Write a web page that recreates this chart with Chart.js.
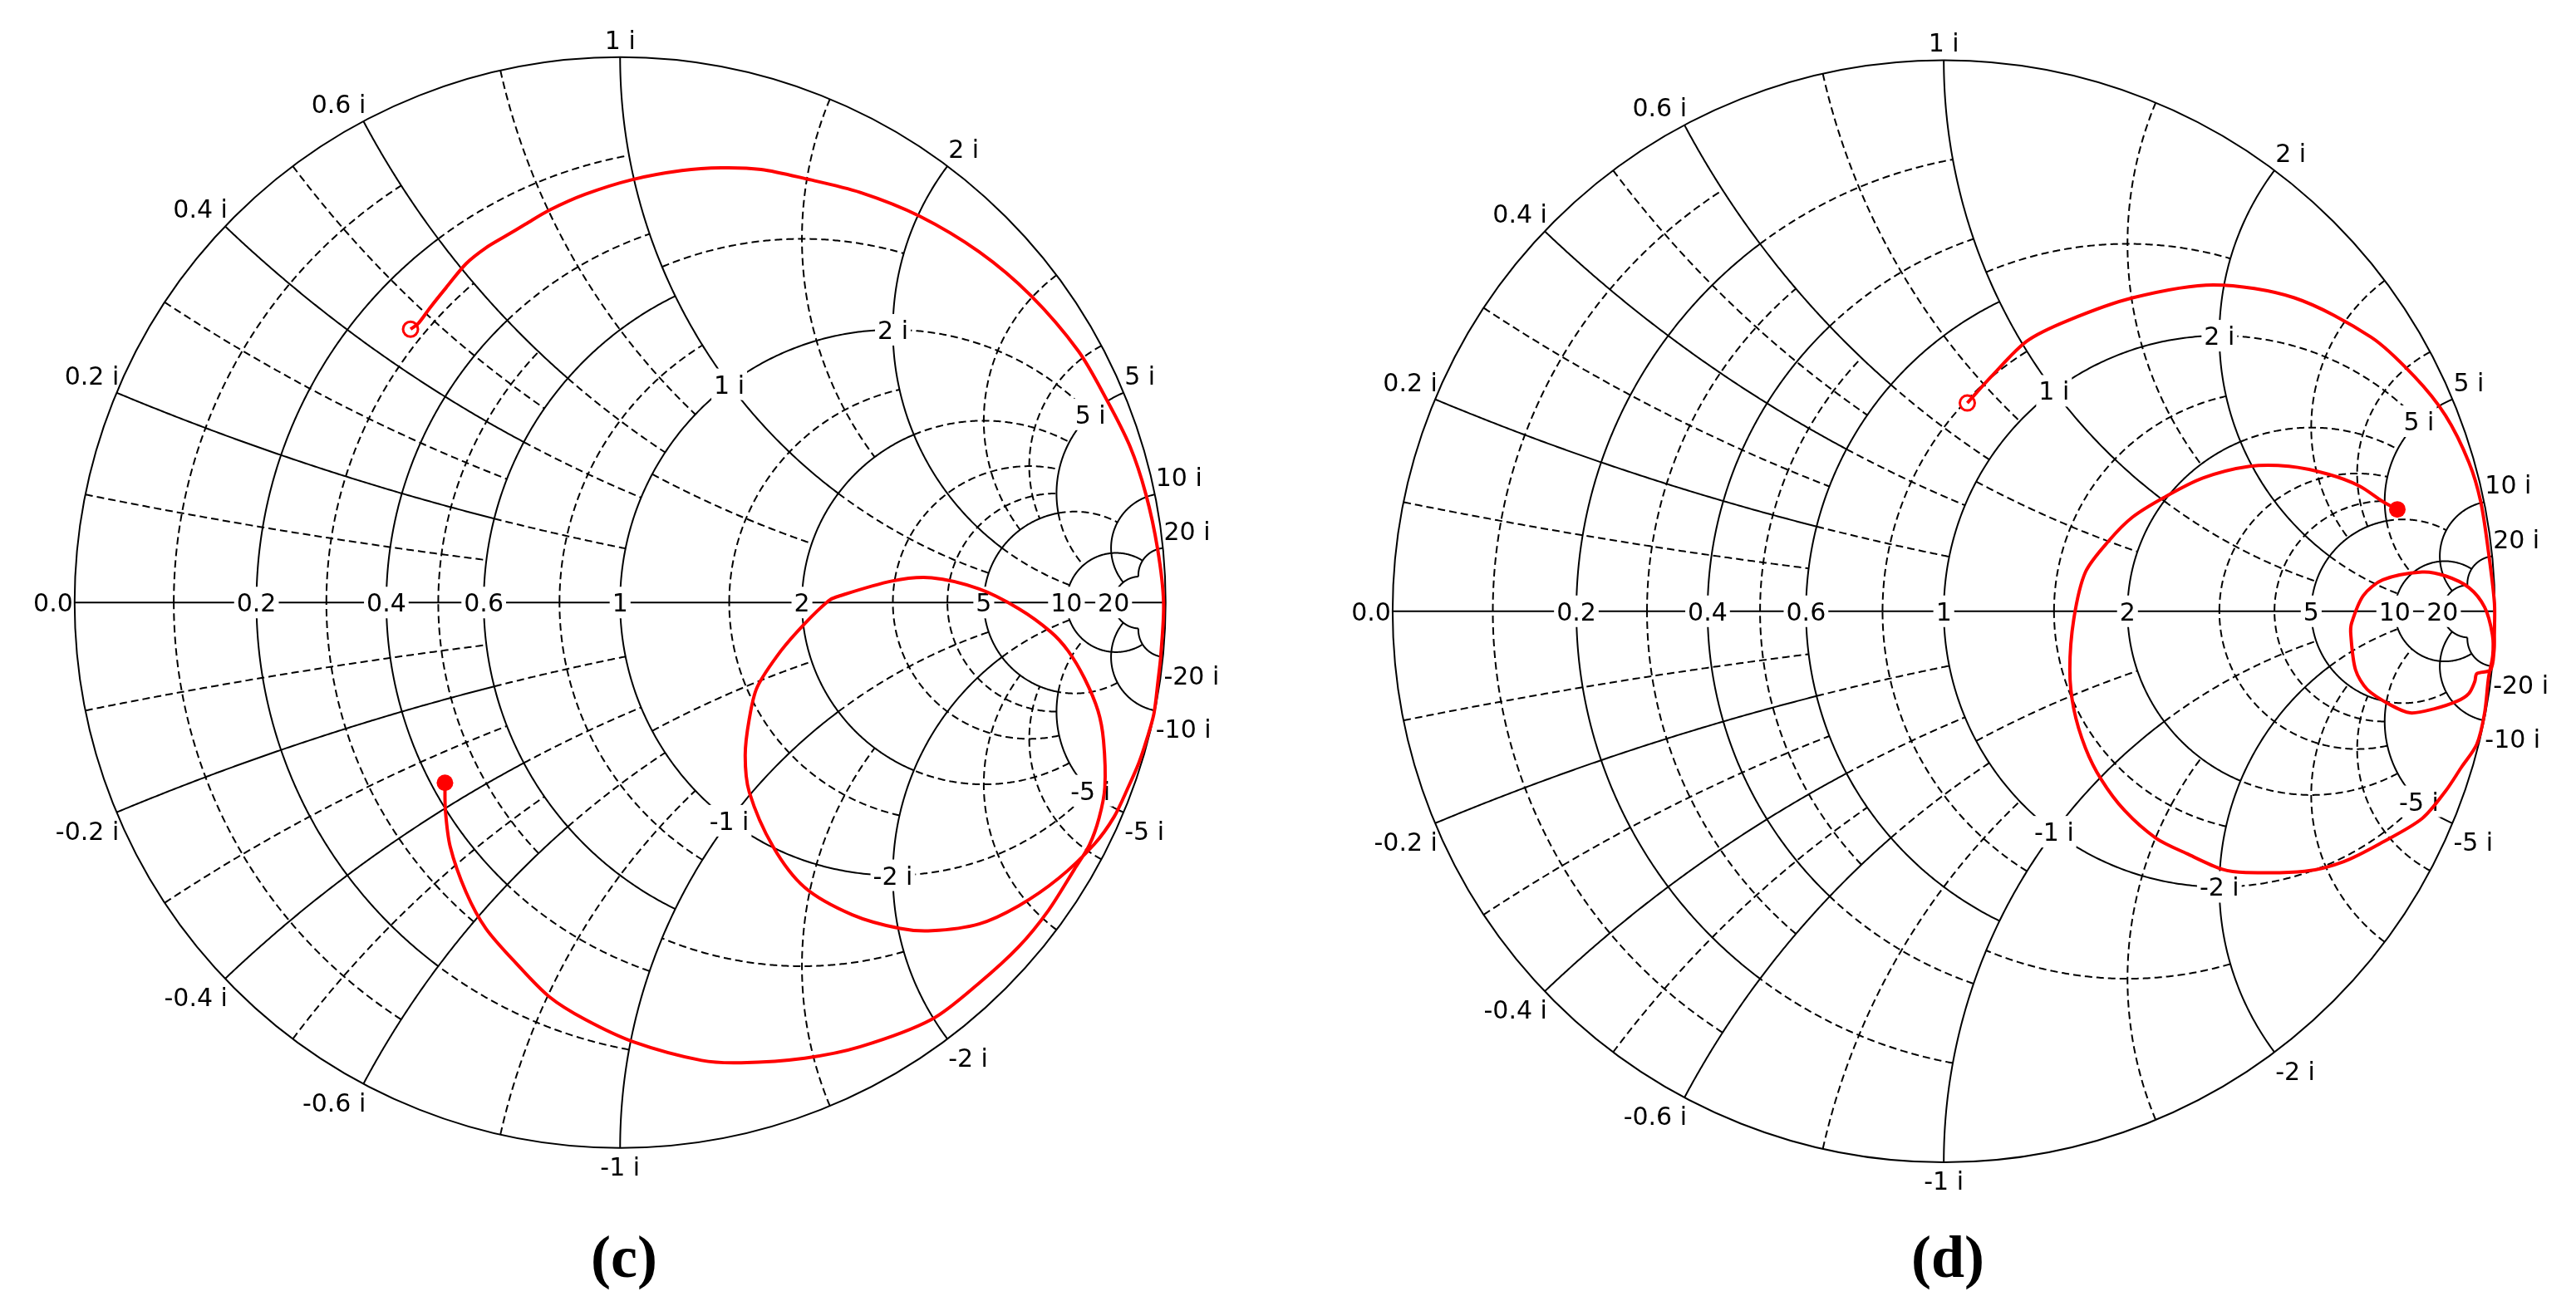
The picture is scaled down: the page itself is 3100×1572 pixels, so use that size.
<!DOCTYPE html>
<html>
<head>
<meta charset="utf-8">
<title>Smith charts (c) and (d)</title>
<script src="https://cdn.jsdelivr.net/npm/chart.js@4.4.1/dist/chart.umd.min.js"></script>
<style>
  html, body { margin:0; padding:0; background:#ffffff; }
  #page { position:relative; width:3100px; height:1572px; background:#fff; overflow:hidden; }
  .panel { position:absolute; top:0; width:1550px; height:1572px; }
</style>
</head>
<body>
<div id="page">
  <div class="panel" style="left:0px"><canvas id="chartC" width="1550" height="1572"></canvas></div>
  <div class="panel" style="left:1550px"><canvas id="chartD" width="1550" height="1572"></canvas></div>
</div>
<script>
// ---------------- tick / label values ----------------
const resistanceTicks = [0.2, 0.4, 0.6, 1, 2, 5, 10, 20];
const reactanceTicks  = [0.2, 0.4, 0.6, 1, 2, 5, 10, 20];
const innerReactanceTicks = [1, 2, 5];   // labelled on the r = 1 circle

// grid segments [value, from, to]  (mirrored for negative reactance)
const majorR = [[0.2,0,0.6],[0.4,0,0.6],[0.6,0,1],[1,0,2],[2,0,2],[5,0,5],[10,0,20],[20,0,20]];
const majorX = [[0.2,0,0.6],[0.4,0,0.6],[0.6,0,0.6],[1,0,2],[2,0,5],[5,0,5],[10,0,20],[20,0,20]];
const minorR = [[0.1,0,0.6],[0.3,0,0.6],[0.5,0,0.6],[0.2,0.6,1],[0.4,0.6,1],[0.8,0,1],[0.5,1,2],[1.5,0,2],
                [1,2,5],[2,2,5],[3,0,5],[4,0,5],[5,5,10]];
const minorX = [[0.1,0,0.6],[0.3,0,0.6],[0.5,0,0.6],[0.8,0,1],[0.2,0.6,1],[0.4,0.6,1],[0.6,0.6,1],[1.5,0,2],
                [0.5,1,2],[1,2,5],[3,0,5],[4,0,5],[2,5,10],[5,5,10]];

// ---------------- series: reflection coefficient ----------------
const traceC_re = [-0.3842,-0.3697,-0.3479,-0.3188,-0.2825,-0.2461,-0.2098,-0.1734,-0.1299,-0.0643,0.0214,0.1131,0.1858,0.2584,0.3385,0.4402,0.5492,0.6582,0.7527,0.8400,0.8908,0.9345,0.9636,0.9854,0.9963,0.9911,0.9861,0.9786,0.9661,0.9511,0.9313,0.9054,0.8691,
  0.8037,0.7309,0.6582,0.5711,0.5129,0.4256,0.3385,0.2803,0.2367,0.2293,0.2367,0.2512,0.2948,0.3385,0.3820,0.3965,0.4983,0.5711,0.6582,0.7309,0.7891,0.8211,0.8511,0.8761,0.8862,0.8886,0.8780,0.8600,
  0.8328,0.7855,0.7309,0.6582,0.5711,0.4402,0.3385,0.2221,0.1494,0.0258,-0.0643,-0.1299,-0.1879,-0.2461,-0.2825,-0.3115,-0.3203,-0.3211];
const traceC_im = [0.5011,0.5120,0.5411,0.5774,0.6210,0.6501,0.6719,0.6936,0.7191,0.7482,0.7750,0.7918,0.7969,0.7939,0.7773,0.7518,0.7082,0.6428,0.5628,0.4610,0.3739,0.2866,0.1993,0.0976,-0.0006,-0.0985,-0.1435,-0.2035,-0.2485,-0.2935,-0.3389,-0.3931,-0.4432,
  -0.5057,-0.5558,-0.5891,-0.6017,-0.5975,-0.5724,-0.5224,-0.4474,-0.3472,-0.2804,-0.2139,-0.1554,-0.0886,-0.0385,0.0031,0.0103,0.0394,0.0453,0.0249,-0.0114,-0.0535,-0.0885,-0.1386,-0.1986,-0.2534,-0.3385,-0.3950,-0.4450,
  -0.4890,-0.5640,-0.6308,-0.6975,-0.7642,-0.8143,-0.8352,-0.8436,-0.8394,-0.8059,-0.7642,-0.7226,-0.6642,-0.5975,-0.5307,-0.4474,-0.3806,-0.3305];

const traceD_re = [0.0427,0.0867,0.1507,0.2250,0.3423,0.4892,0.6362,0.7754,0.8535,0.9103,0.9529,0.9742,0.9884,0.9991,0.9990,0.9985,0.9920,
  0.9671,0.9635,0.9529,0.9316,0.8890,0.8464,0.8109,0.7683,0.7471,0.7385,0.7400,0.7612,0.7966,0.8678,0.9103,0.9529,0.9813,0.9954,0.9960,
  0.9884,0.9813,0.9671,0.9387,0.9103,0.8678,0.7966,0.7257,0.6547,0.5482,0.5056,0.4417,0.3849,0.3282,0.2856,0.2571,0.2359,0.2287,0.2359,0.2571,0.2997,0.3423,0.3991,0.4701,0.5553,0.6263,0.6973,0.7541,0.7966,0.8229];
const traceD_im = [0.3779,0.4263,0.4901,0.5275,0.5687,0.5921,0.5687,0.4973,0.4263,0.3552,0.2700,0.1990,0.1067,0.0145,-0.0423,-0.0707,-0.1063,
  -0.1133,-0.1275,-0.1489,-0.1630,-0.1772,-0.1844,-0.1701,-0.1418,-0.1063,-0.0423,-0.0211,0.0286,0.0570,0.0712,0.0641,0.0429,0.0074,-0.0423,-0.0800,
  -0.1204,-0.1844,-0.2411,-0.2837,-0.3263,-0.3760,-0.4186,-0.4541,-0.4719,-0.4740,-0.4683,-0.4400,-0.4115,-0.3617,-0.3050,-0.2482,-0.1772,-0.1063,-0.0140,0.0712,0.1281,0.1707,0.2062,0.2417,0.2630,0.2630,0.2488,0.2274,0.1990,0.1848];

// ---------------- layout (pixels) ----------------
const PANELS = [
  { id:'chartC', left:0,    cx:745.8,  cy:724.3, R:666.8, re:traceC_re, im:traceC_im, caption:'(c)', capX:751 },
  { id:'chartD', left:1550, cx:2339.4, cy:735.0, R:673.7, re:traceD_re, im:traceD_im, caption:'(d)', capX:2344 }
];
const W = 1550, H = 1572;

function gam(r, x) {
  if (!isFinite(r) || !isFinite(x)) return [1, 0];
  const d = (r + 1) * (r + 1) + x * x;
  return [(r * r + x * x - 1) / d, 2 * x / d];
}
function rCircle(r, x0, x1) {
  const N = 160, a0 = Math.atan(x0 / (1 + r)), a1 = Math.atan(x1 / (1 + r)), out = [];
  for (let i = 0; i <= N; i++) {
    const u = a0 + (a1 - a0) * i / N;
    const x = Math.abs(Math.abs(u) - Math.PI / 2) < 1e-9 ? Infinity : (1 + r) * Math.tan(u);
    out.push(gam(r, x));
  }
  return out;
}
function xArc(x, r0, r1) {
  const ax = Math.abs(x), s = Math.sign(x), N = 160, out = [];
  const a0 = Math.atan(ax / (1 + r0)), a1 = isFinite(r1) ? Math.atan(ax / (1 + r1)) : 0;
  for (let i = 0; i <= N; i++) {
    const u = a0 + (a1 - a0) * i / N;
    if (u <= 1e-12) { out.push([1, 0]); continue; }
    const r = ax / Math.tan(u) - 1;
    out.push(gam(Math.max(r, 0), s * ax));
  }
  return out;
}

const smithGrid = {
  id: 'smithGrid',
  beforeDatasetsDraw(chart, args, o) {
    const ctx = chart.ctx, xs = chart.scales.x, ys = chart.scales.y;
    const P = g => [xs.getPixelForValue(g[0]), ys.getPixelForValue(g[1])];
    ctx.save();
    ctx.strokeStyle = '#000';
    ctx.lineWidth = 2;
    const stroke = (pts, dashed) => {
      ctx.setLineDash(dashed ? [9, 5] : []);
      ctx.beginPath();
      pts.forEach((g, i) => { const p = P(g); if (i) ctx.lineTo(p[0], p[1]); else ctx.moveTo(p[0], p[1]); });
      ctx.stroke();
    };
    const drawSegs = (list, kind, dashed) => {
      list.forEach(([v, a, b]) => {
        if (kind === 'r') { stroke(rCircle(v, a, b), dashed); stroke(rCircle(v, -b, -a), dashed); }
        else { stroke(xArc(v, a, b), dashed); stroke(xArc(-v, a, b), dashed); }
      });
    };
    drawSegs(minorR, 'r', true);
    drawSegs(minorX, 'x', true);
    drawSegs(majorR, 'r', false);
    drawSegs(majorX, 'x', false);
    // outer circle and real axis
    const c = P([0, 0]), rad = xs.getPixelForValue(1) - c[0];
    ctx.setLineDash([]);
    ctx.beginPath(); ctx.arc(c[0], c[1], rad, 0, Math.PI * 2); ctx.stroke();
    ctx.beginPath(); ctx.moveTo(c[0] - rad, c[1]); ctx.lineTo(c[0] + rad, c[1]); ctx.stroke();

    // labels
    ctx.font = '30px "DejaVu Sans"';
    ctx.textBaseline = 'alphabetic';
    const boxed = (t, p) => {
      const w = ctx.measureText(t).width;
      ctx.fillStyle = '#fff'; ctx.fillRect(p[0] - w / 2 - 3, p[1] - 19, w + 6, 38);
      ctx.fillStyle = '#000'; ctx.textAlign = 'center'; ctx.fillText(t, p[0], p[1] + 11);
    };
    ctx.fillStyle = '#000'; ctx.textAlign = 'right';
    const e = P([-1, 0]); ctx.fillText('0.0', e[0] - 2, e[1] + 11);
    resistanceTicks.forEach(r => boxed(String(r), P([(r - 1) / (r + 1), 0])));
    reactanceTicks.forEach(x => {
      [x, -x].forEach(v => {
        const g = gam(0, v), p = P(g), t = (v < 0 ? '-' : '') + String(Math.abs(v)) + ' i';
        ctx.fillStyle = '#000';
        let tx = p[0];
        if (g[0] > 0.1) { ctx.textAlign = 'left'; tx = p[0] + 1; }
        else if (g[0] < -0.1) { ctx.textAlign = 'right'; tx = p[0] + 3; }
        else ctx.textAlign = 'center';
        ctx.fillText(t, tx, v > 0 ? p[1] - 10 : p[1] + 33);
      });
    });
    innerReactanceTicks.forEach(x => {
      [x, -x].forEach(v => boxed((v < 0 ? '-' : '') + String(Math.abs(v)) + ' i', P(gam(1, v))));
    });
    // caption
    ctx.font = 'bold 72px "Liberation Serif"';
    ctx.textAlign = 'center'; ctx.fillStyle = '#000';
    ctx.fillText(o.caption, o.capX, 1537);
    ctx.restore();
  }
};

PANELS.forEach(pn => {
  const k = pn.R, cxl = pn.cx - pn.left;
  const pts = pn.re.map((v, i) => ({ x: v, y: pn.im[i] }));
  new Chart(document.getElementById(pn.id), {
    type: 'scatter',
    data: {
      datasets: [
        { data: pts, showLine: true, borderColor: '#ff0000', borderWidth: 4, pointRadius: 0, tension: 0.3, fill: false },
        { data: [pts[0]], pointRadius: 9, borderWidth: 3, borderColor: '#ff0000', backgroundColor: '#ffffff', pointStyle: 'circle' },
        { data: [pts[pts.length - 1]], pointRadius: 10, borderWidth: 0, backgroundColor: '#ff0000', pointStyle: 'circle' }
      ]
    },
    options: {
      responsive: false, animation: false, devicePixelRatio: 1,
      layout: { padding: 0 },
      events: [],
      plugins: { legend: { display: false }, tooltip: { enabled: false },
                 smithGrid: { caption: pn.caption, capX: pn.capX - pn.left } },
      scales: {
        x: { type: 'linear', display: false, min: -cxl / k, max: (W - cxl) / k },
        y: { type: 'linear', display: false, min: -(H - pn.cy) / k, max: pn.cy / k }
      }
    },
    plugins: [smithGrid]
  });
});
</script>
</body>
</html>
